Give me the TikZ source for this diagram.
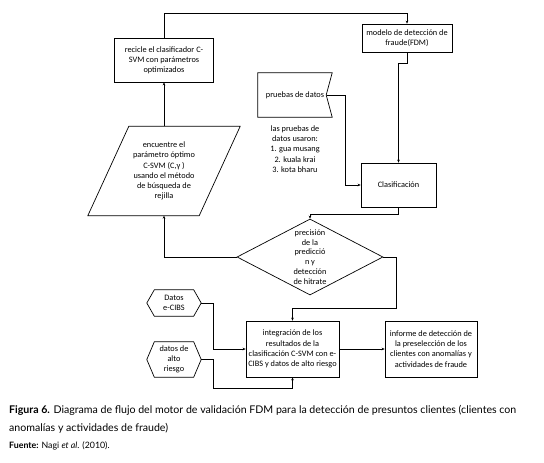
\documentclass[tikz,border=0pt]{standalone}
\usepackage{fontspec}
\setmainfont{Carlito}
\newfontfamily\capfont{Lato}
\usetikzlibrary{shapes.geometric,arrows.meta}
\begin{document}
\begin{tikzpicture}[x=1pt,y=-1pt,
  txt/.style={align=center, inner sep=0pt, font=\fontsize{8.3}{10.2}\selectfont},
  box/.style={txt, draw, line width=0.7pt},
  outline/.style={draw, line width=0.7pt},
  conn/.style={line width=0.8pt, -{Stealth[length=3pt,width=2.6pt]}},
  capt/.style={anchor=base west, inner sep=0pt, font=\capfont\fontsize{10.6}{12}\selectfont},
]
\useasboundingbox (0,0) rectangle (544,463);
\fill[white] (0,0) rectangle (544,463);

% nodes
\node[box, minimum width=99, minimum height=44] (recicle) at (164,60) {recicle el clasificador C-\\SVM con parámetros\\optimizados};
\node[box, minimum width=90, minimum height=28] (fdm) at (407,38) {modelo de detección de\\fraude(FDM)};
\node[txt, minimum width=74, minimum height=44] (pruebas) at (295,95) {pruebas de datos};
\draw[outline] (pruebas.north west) -- (pruebas.north east) -- ([xshift=-6pt]pruebas.east) -- (pruebas.south east) -- (pruebas.south west) -- cycle;
\node[txt] (lista) at (295,149) {las pruebas de\\datos usaron:\\1. gua musang\\2. kuala krai\\3. kota bharu};
\node[box, minimum width=75, minimum height=44] (clas) at (398.5,185) {Clasificación};
\node[draw, line width=0.7pt, diamond, minimum width=146, minimum height=76, inner sep=0pt] (dec) at (310,257) {};
\node[txt, font=\fontsize{8.3}{9.8}\selectfont] (dectext) at (dec.center) {precisión\\de la\\predicció\\n y\\detección\\de hitrate};
\node[txt, minimum width=111, minimum height=89] (param) at (164,171) {encuentre el\\parámetro óptimo\\C-SVM (C,γ )\\usando el método\\de búsqueda de\\rejilla};
\draw[outline] ([xshift=20.5pt]param.north west) -- ([xshift=20.5pt]param.north east) -- ([xshift=-20.5pt]param.south east) -- ([xshift=-20.5pt]param.south west) -- cycle;
\node[box, minimum width=93, minimum height=56] (integ) at (292.5,349) {integración de los\\resultados de la\\clasificación C-SVM con e-\\CIBS y datos de alto riesgo};
\node[box, minimum width=92, minimum height=56] (inf) at (431,349) {informe de detección de\\la preselección de los\\clientes con anomalías y\\actividades de fraude};
\node[txt, minimum width=54, minimum height=26] (hexa) at (174,303) {Datos\\e-CIBS};
\draw[outline] (hexa.west) -- ([xshift=7.5pt]hexa.north west) -- ([xshift=-7.5pt]hexa.north east) -- (hexa.east) -- ([xshift=-7.5pt]hexa.south east) -- ([xshift=7.5pt]hexa.south west) -- cycle;
\node[txt, minimum width=54, minimum height=35] (hexb) at (174,359.5) {datos de\\alto\\riesgo};
\draw[outline] (hexb.west) -- ([xshift=7.5pt]hexb.north west) -- ([xshift=-7.5pt]hexb.north east) -- (hexb.east) -- ([xshift=-7.5pt]hexb.south east) -- ([xshift=7.5pt]hexb.south west) -- cycle;

% bend helpers
\coordinate (ya) at (0,13);
\coordinate (yb) at (0,63);
\coordinate (xc) at (345,0);
\coordinate (yd) at (0,214);
\coordinate (xe) at (396,0);
\coordinate (ye) at (0,308);
\coordinate (xf) at (213,0);
\coordinate (yf) at (0,388);

% connectors
\draw[conn] (param.north) -- (recicle.south);
\draw[conn] (recicle.north) -- (recicle.north |- ya) -- (fdm.north |- ya) -- (fdm.north);
\draw[conn] (fdm.south) -- (fdm.south |- yb) -- (clas.north |- yb) -- (clas.north);
\draw[conn] ([xshift=-5pt]pruebas.east) -- (pruebas.east -| xc) |- (clas.west);
\draw[conn] (clas.south) -- (clas.south |- yd) -- (dec.north |- yd) -- (dec.north);
\draw[conn] (dec.west) -| (param.south);
\draw[conn] (dec.east) -- (dec.east -| xe) -- (xe |- ye) -- (integ.north |- ye) -- (integ.north);
\draw[conn] (hexa.east) -- (hexa.east -| xf) |- (integ.west);
\draw[conn] (hexb.east) -- (hexb.east -| xf) -- (xf |- yf) -- (integ.south |- yf) -- (integ.south);
\draw[conn] (integ.east) -- (inf.west);

% caption
\node[capt] (cap1) at (9,413) {\textbf{Figura 6.} Diagrama de flujo del motor de validación FDM para la detección de presuntos clientes (clientes con};
\node[capt] (cap2) at (9,431) {anomalías y actividades de fraude)};
\node[capt, font=\capfont\fontsize{8.8}{10}\selectfont] (src) at (9,448) {\textbf{Fuente:} Nagi \textit{et al}. (2010).};
\end{tikzpicture}
\end{document}
